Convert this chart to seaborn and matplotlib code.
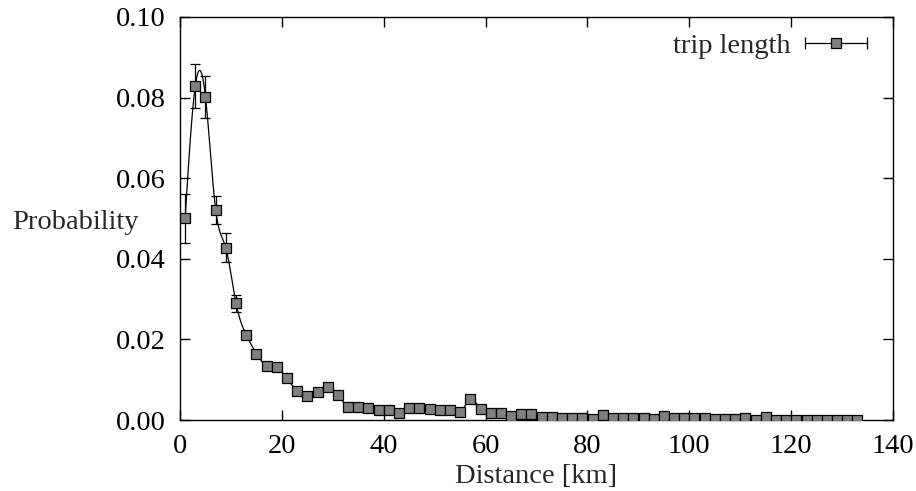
import numpy as np
import pandas as pd
import matplotlib
matplotlib.use("Agg")
import matplotlib.pyplot as plt
import seaborn as sns
from matplotlib.lines import Line2D
from matplotlib.legend_handler import HandlerLine2D

# ---- data ----
distance = list(range(1, 134, 2))
probability = [
    0.0500, 0.0829, 0.0802, 0.0522, 0.0427, 0.0290, 0.0211, 0.0165, 0.0135, 0.0132,
    0.0103, 0.0073, 0.0060, 0.0070, 0.0082, 0.0063, 0.0032, 0.0032, 0.0029, 0.0026,
    0.0026, 0.0018, 0.0029, 0.0030, 0.0027, 0.0026, 0.0026, 0.0019, 0.0051, 0.0028,
    0.0017, 0.0017, 0.0011, 0.0016, 0.0014, 0.0007, 0.0007, 0.0005, 0.0005, 0.0005,
    0.0003, 0.0012, 0.0004, 0.0006, 0.0006, 0.0005, 0.0003, 0.0009, 0.0004, 0.0005,
    0.0005, 0.0004, 0.0002, 0.0002, 0.0003, 0.0004, 0.0001, 0.0007, 0.0001, 0.0001,
    0.0001, 0.0001, 0.0001, 0.0001, 0.0001, 0.0001, 0.0001,
]
err_distance = [1, 3, 5, 7, 9, 11]
err_size = [0.0060, 0.0055, 0.0052, 0.0035, 0.0036, 0.0021]
xticks = [0, 20, 40, 60, 80, 100, 120, 140]
yticks = [0.00, 0.02, 0.04, 0.06, 0.08, 0.10]
series_label = "trip length"

df = pd.DataFrame({"Distance": distance, "Probability": probability})


def natural_cubic_spline(x, y, n_per=20):
    x = np.asarray(x, float)
    y = np.asarray(y, float)
    n = len(x)
    h = np.diff(x)
    A = np.zeros((n, n))
    b = np.zeros(n)
    A[0, 0] = 1
    A[-1, -1] = 1
    for i in range(1, n - 1):
        A[i, i - 1] = h[i - 1]
        A[i, i] = 2 * (h[i - 1] + h[i])
        A[i, i + 1] = h[i]
        b[i] = 3 * ((y[i + 1] - y[i]) / h[i] - (y[i] - y[i - 1]) / h[i - 1])
    c = np.linalg.solve(A, b)
    xs, ys = [], []
    for i in range(n - 1):
        bb = (y[i + 1] - y[i]) / h[i] - h[i] * (2 * c[i] + c[i + 1]) / 3
        d = (c[i + 1] - c[i]) / (3 * h[i])
        t = np.linspace(0, h[i], n_per, endpoint=(i == n - 2))
        xs.append(x[i] + t)
        ys.append(y[i] + bb * t + c[i] * t ** 2 + d * t ** 3)
    return np.concatenate(xs), np.concatenate(ys)


sx, sy = natural_cubic_spline(df["Distance"], df["Probability"])
smooth = pd.DataFrame({"Distance": sx, "Probability": sy})

sns.set_style("ticks")
plt.rcParams["font.family"] = ["Liberation Serif", "DejaVu Serif"]

FS = 20.5
fig = plt.figure(figsize=(9.16, 4.91), dpi=100)
ax = fig.add_axes([0.1965, 0.1446, 0.7785, 0.8208])

sns.lineplot(data=smooth, x="Distance", y="Probability", color="black",
             linewidth=0.9, ax=ax, zorder=2, sort=False)
err_y = [probability[distance.index(d)] for d in err_distance]
ax.errorbar(err_distance, err_y, yerr=err_size, fmt="none", ecolor="black",
            elinewidth=0.9, capsize=3.8, capthick=0.9, zorder=3)
sns.scatterplot(data=df, x="Distance", y="Probability", marker="s", s=50,
                color="#7f7f7f", edgecolor="black", linewidth=0.9, ax=ax, zorder=4)

ax.set_xlim(0, 140)
ax.set_ylim(0, 0.10)
ax.set_xticks(xticks)
ax.set_yticks(yticks)
ax.set_yticklabels([f"{v:.2f}" for v in yticks])
ax.tick_params(direction="in", length=7, width=1.0, top=True, right=True,
               labelsize=FS, pad=10, colors="black")
for s in ax.spines.values():
    s.set_visible(True)
    s.set_linewidth(1.0)
    s.set_color("black")

ax.set_xlabel("Distance [km]", fontsize=FS, labelpad=4)
ax.set_ylabel("Probability", fontsize=FS, rotation=0, ha="right", va="center")
ax.yaxis.set_label_coords(-0.058, 0.49)

# legend: horizontal error bar sample with square marker (gnuplot style)
cap_line = Line2D([], [], color="black", linewidth=0.9, marker="|",
                  markersize=9, markeredgewidth=0.9)
sq_marker = Line2D([], [], linestyle="none", marker="s", markersize=7.4,
                   markerfacecolor="#7f7f7f", markeredgecolor="black",
                   markeredgewidth=0.9)
leg = ax.legend([(cap_line, sq_marker)], [series_label],
                handler_map={cap_line: HandlerLine2D(numpoints=2, marker_pad=0.0),
                             sq_marker: HandlerLine2D(numpoints=1)},
                loc="upper right", frameon=False, fontsize=FS,
                markerfirst=False, handlelength=2.2, handletextpad=0.5,
                borderaxespad=0.0, bbox_to_anchor=(0.980, 0.988))

fig.savefig("out.png", dpi=100)
